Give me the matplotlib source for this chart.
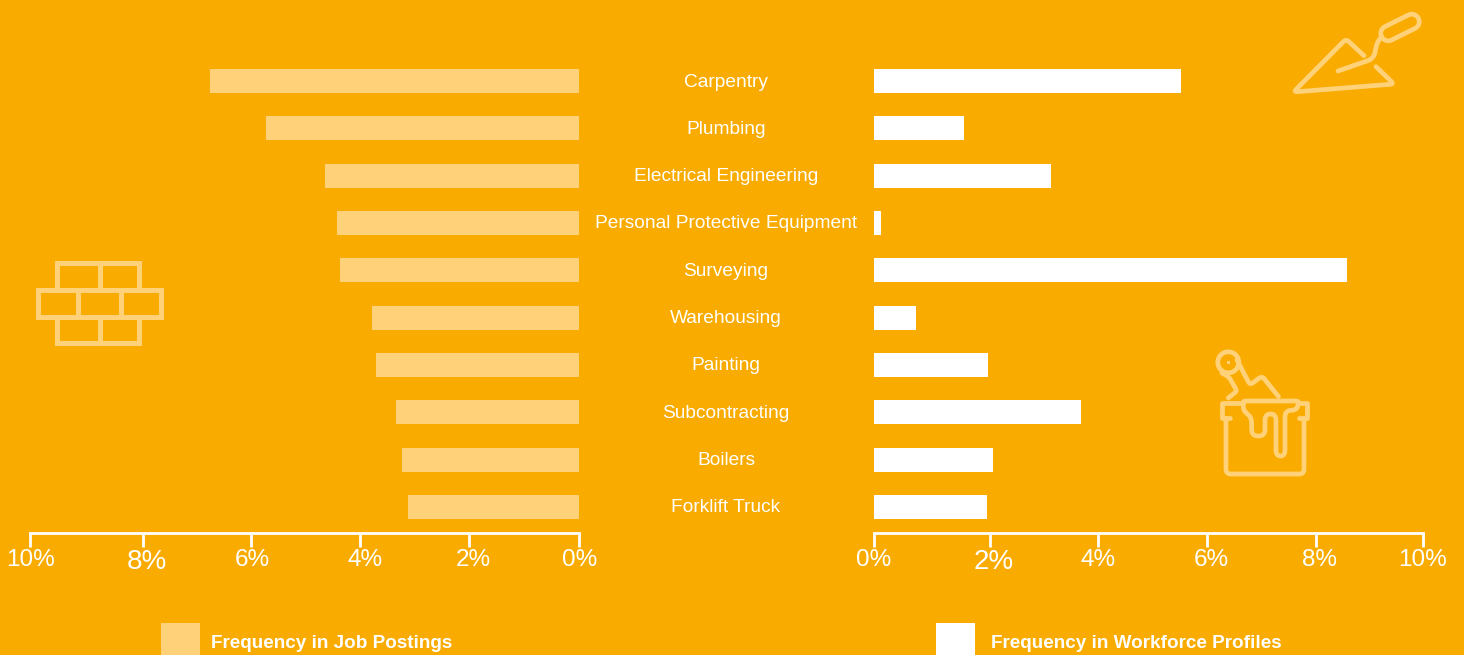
import matplotlib
matplotlib.use("Agg")
import numpy as np
import matplotlib.pyplot as plt
from matplotlib.path import Path
from matplotlib.patches import PathPatch, Rectangle, Circle
from matplotlib.transforms import ScaledTranslation

categories = ["Carpentry", "Plumbing", "Electrical Engineering",
              "Personal Protective Equipment", "Surveying", "Warehousing",
              "Painting", "Subcontracting", "Boilers", "Forklift Truck"]
job_postings = [6.72, 5.70, 4.61, 4.39, 4.35, 3.77, 3.68, 3.32, 3.21, 3.10]
workforce_profiles = [5.59, 1.64, 3.22, 0.13, 8.62, 0.77, 2.08, 3.77, 2.17, 2.05]
tick_labels = ["0%", "2%", "4%", "6%", "8%", "10%"]

bg = "#F9AB00"
light = "#FFD27A"
W, H = 1464, 655
plt.rcParams["font.family"] = ["Liberation Sans", "DejaVu Sans"]

fig = plt.figure(figsize=(W / 100, H / 100), dpi=100, facecolor=bg)


def px_axes(x0, x1, y0, y1):
    return fig.add_axes([x0 / W, 1 - y1 / H, (x1 - x0) / W, (y1 - y0) / H])


y = np.arange(len(categories))
ax_l = px_axes(29.5, 578.5, 57.5, 532.5)
ax_r = px_axes(874, 1423, 57.5, 532.5)

ax_l.barh(y, job_postings, height=0.507, color=light)
ax_l.set_xlim(10, 0)
ax_l.set_xticks([0, 1.995, 3.98, 5.96, 7.93, 10])
ax_r.barh(y, workforce_profiles, height=0.507, color="white")
ax_r.set_xlim(0, 10)
ax_r.set_xticks([0, 2.11, 4.08, 6.07, 8.05, 10])

for ax in [ax_l, ax_r]:
    ax.set_facecolor("none")
    ax.set_ylim(9.539, -0.4965)
    ax.set_yticks([])
    for s in ["top", "left", "right"]:
        ax.spines[s].set_visible(False)
    ax.spines["bottom"].set_color("white")
    ax.spines["bottom"].set_linewidth(2)
    ax.tick_params(axis="x", length=10, width=2, color="white", direction="out",
                   labelcolor="white", labelsize=17.5, pad=2)
    ax.set_xticklabels(tick_labels)

# labels don't sit exactly under their ticks in the original, nudge them (px)
nudges = [(ax_l, [1.5, 4, 5, 1, 4, 1.5]), (ax_r, [0, 4, 0, 4, 4, -1])]
for ax, dxs in nudges:
    for lab, dx in zip(ax.get_xticklabels(), dxs):
        lab.set_transform(lab.get_transform() + ScaledTranslation(dx / 100, 0, fig.dpi_scale_trans))

# the 8% and 2% labels are drawn a bit bigger in the original
for ax, i in [(ax_l, 4), (ax_r, 1)]:
    ax.get_xticklabels()[i].set_fontsize(20)

# middle labels + icons go on one overlay in pixel coords
ov = fig.add_axes([0, 0, 1, 1])
ov.set_xlim(0, W)
ov.set_ylim(H, 0)
ov.axis("off")
ov.patch.set_alpha(0)

for i, name in enumerate(categories):
    yy = ax_l.transData.transform((0, i))[1]
    ov.text(726, H - yy + 5.5, name, color="white", fontsize=13.8,
            ha="center", va="baseline")

ov.add_patch(Rectangle((161, 623), 39, 32, color=light, lw=0))
ov.add_patch(Rectangle((936, 623), 39, 32, color="white", lw=0))
ov.text(211, 643, "Frequency in Job Postings", color="white", fontsize=13.6,
        fontweight="bold", va="center")
ov.text(991, 643, "Frequency in Workforce Profiles", color="white", fontsize=13.6,
        fontweight="bold", va="center")


def rounded(pts, r=4.0):
    # polyline with each inner corner replaced by a small bezier of size r
    p = np.array(pts, dtype=float)
    out = [p[0]]
    for a, b, c in zip(p[:-2], p[1:-1], p[2:]):
        ra = min(r, np.linalg.norm(a - b) / 2)
        rc = min(r, np.linalg.norm(c - b) / 2)
        s = b + (a - b) / np.linalg.norm(a - b) * ra
        e = b + (c - b) / np.linalg.norm(c - b) * rc
        for t in np.linspace(0, 1, 10):
            out.append((1 - t) ** 2 * s + 2 * t * (1 - t) * b + t ** 2 * e)
    out.append(p[-1])
    return np.array(out)


def stroke(pts, lw=3.4, closed=False, join="round"):
    pts = np.asarray(pts, dtype=float)
    codes = [Path.MOVETO] + [Path.LINETO] * (len(pts) - 1)
    if closed:
        pts = np.vstack([pts, pts[0]])
        codes = codes + [Path.CLOSEPOLY]
    ov.add_patch(PathPatch(Path(pts, codes), fc="none", ec=light, lw=lw,
                           capstyle="round", joinstyle=join))


# brick wall
for x0, x1, y0, y1 in [(56.7, 100, 263.3, 290), (100, 139, 263.3, 290),
                       (37.7, 77.7, 290, 316.7), (77.7, 121, 290, 316.7), (121, 160.7, 290, 316.7),
                       (56.7, 100, 316.7, 343), (100, 139, 316.7, 343)]:
    stroke([(x0, y0), (x1, y0), (x1, y1), (x0, y1)], lw=3.6, closed=True, join="miter")

# trowel
stroke(rounded([(1364, 55.7), (1346, 39), (1293.5, 92), (1394, 84), (1376, 66.7)], 4))
stroke(rounded([(1338, 71), (1374, 58.5), (1376.7, 43), (1381.7, 36.7)], 7))
a = np.array([1388.3, 33.3])
b = np.array([1411.7, 21.7])
ang = np.arctan2(b[1] - a[1], b[0] - a[0])
t1 = np.linspace(ang + np.pi / 2, ang + 3 * np.pi / 2, 20)
t2 = np.linspace(ang - np.pi / 2, ang + np.pi / 2, 20)
capsule = np.vstack([a + 7.5 * np.c_[np.cos(t1), np.sin(t1)],
                     b + 7.5 * np.c_[np.cos(t2), np.sin(t2)]])
stroke(capsule, closed=True)


def bucket(pts):
    return [(1200 + px / 3, 340 + py / 3) for px, py in pts]


# paint bucket
stroke(rounded(bucket([(78, 235), (78, 402), (312, 402), (312, 235)]), 5))
stroke(bucket([(90, 235), (65, 235), (65, 190), (130, 190)]))
stroke(bucket([(295, 190), (320, 190), (320, 235), (297, 235)]))
stroke(rounded(bucket([(130, 190), (130, 183), (295, 183), (295, 190)]), 3))
stroke(rounded(bucket([(130, 190), (130, 212), (155, 232), (155, 288), (195, 288), (195, 222),
                       (228, 222), (228, 348), (255, 348), (255, 212), (290, 210), (295, 190)]), 6.5))
ov.add_patch(Circle((1228.3, 362.3), 10.5, fc="none", ec=light, lw=3.4))
ov.add_patch(Rectangle((1226.5, 360.5), 3.5, 3.5, color=light, lw=0))
stroke(rounded([(1237, 360), (1250, 385), (1262, 376), (1278.5, 396.5)], 4))
stroke(rounded([(1222, 373), (1229, 377), (1237, 391), (1228.3, 398)], 3))

fig.savefig("out.png", dpi=100, facecolor=bg)
